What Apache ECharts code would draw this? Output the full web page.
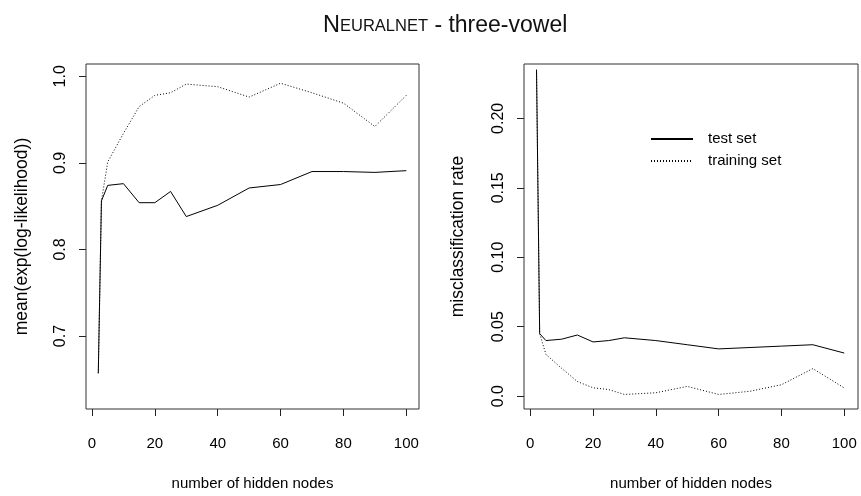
<!DOCTYPE html>
<html>
<head>
<meta charset="utf-8">
<script src="https://cdn.jsdelivr.net/npm/echarts@6/dist/echarts.min.js"></script>
<style>
  html, body { margin: 0; padding: 0; background: #fff; }
  #chart { width: 861px; height: 496px; }
</style>
</head>
<body>
<div id="chart"></div>
<script>
// Hidden-node counts tried for the network
const nodes = [2, 3, 5, 10, 15, 20, 25, 30, 40, 50, 60, 70, 80, 90, 100];

// mean(exp(log-likelihood)) per node count
const likTest  = [0.657, 0.856, 0.874, 0.876, 0.854, 0.854, 0.867, 0.838, 0.851, 0.871, 0.875, 0.890, 0.890, 0.889, 0.891];
const likTrain = [0.657, 0.856, 0.901, 0.934, 0.965, 0.978, 0.981, 0.991, 0.988, 0.976, 0.992, 0.981, 0.969, 0.942, 0.978];

// misclassification rate per node count
const errTest  = [0.235, 0.045, 0.040, 0.041, 0.044, 0.039, 0.040, 0.042, 0.040, 0.037, 0.034, 0.035, 0.036, 0.037, 0.031];
const errTrain = [0.235, 0.045, 0.030, 0.020, 0.0105, 0.006, 0.0047, 0.0012, 0.0024, 0.007, 0.0012, 0.0035, 0.0082, 0.0198, 0.0059];

// axis tick positions
const xTicks = [0, 20, 40, 60, 80, 100];
const likTicks = [0.7, 0.8, 0.9, 1.0];
const errTicks = [0, 0.05, 0.10, 0.15, 0.20];

const FONT = '"Liberation Sans", Arial, Helvetica, sans-serif';
const INK = '#000';

const pairs = (xs, ys) => xs.map((x, i) => [x, ys[i]]);

function xAxisFor(gridIndex, min, max) {
  return {
    type: 'value', gridIndex, min, max, position: 'bottom',
    name: 'number of hidden nodes', nameLocation: 'middle', nameGap: 67,
    nameTextStyle: { fontFamily: FONT, fontSize: 15, color: INK },
    axisLine: { show: false, onZero: false },
    splitLine: { show: false },
    axisTick: { show: true, inside: false, length: 7, customValues: xTicks, lineStyle: { color: '#222', width: 1 } },
    axisLabel: { customValues: xTicks, margin: 27, fontFamily: FONT, fontSize: 15, color: INK }
  };
}

function yAxisFor(gridIndex, min, max, ticks, title, gap, fmt) {
  return {
    type: 'value', gridIndex, min, max, position: 'left',
    name: title, nameLocation: 'middle', nameGap: gap, nameRotate: 90,
    nameTextStyle: { fontFamily: FONT, fontSize: 17.5, color: INK },
    axisLine: { show: false, onZero: false },
    splitLine: { show: false },
    axisTick: { show: true, inside: false, length: 7, customValues: ticks, lineStyle: { color: '#222', width: 1 } },
    axisLabel: { customValues: ticks, rotate: 90, margin: 17, fontFamily: FONT, fontSize: 16, color: INK, formatter: fmt }
  };
}

const legendText = { fontFamily: FONT, fontSize: 15, color: INK, lineHeight: 18, padding: [0, 0, 0, 10] };

const chart = echarts.init(document.getElementById('chart'), null, { renderer: 'canvas' });

chart.setOption({
  backgroundColor: '#fff',
  animation: false,
  title: {
    left: 318, top: 9,
    text: '{n|N}{sc|EURALNET}{r| - three-vowel}',
    textStyle: {
      rich: {
        n:  { fontFamily: FONT, fontSize: 23.5, fontWeight: 'normal', color: '#111' },
        sc: { fontFamily: FONT, fontSize: 16.5, fontWeight: 'normal', color: '#111' },
        r:  { fontFamily: FONT, fontSize: 23, fontWeight: 'normal', color: '#111' }
      }
    }
  },
  legend: [
    {
      data: ['test set'], left: 645, top: 125, orient: 'vertical',
      itemWidth: 42, itemHeight: 14, selectedMode: false,
      itemStyle: { opacity: 0 },
      textStyle: legendText
    },
    {
      data: ['training set'], left: 645, top: 147, orient: 'vertical',
      itemWidth: 42, itemHeight: 14, selectedMode: false,
      itemStyle: { opacity: 0 },
      textStyle: legendText
    }
  ],
  grid: [
    { left: 86, top: 64, width: 333, height: 356, show: true, borderColor: '#333', borderWidth: 1, backgroundColor: 'transparent' },
    { left: 524, top: 64, width: 334, height: 356, show: true, borderColor: '#333', borderWidth: 1, backgroundColor: 'transparent' }
  ],
  xAxis: [
    xAxisFor(0, -1.91, 104.04),
    xAxisFor(1, -1.99, 104.38)
  ],
  yAxis: [
    yAxisFor(0, 0.61569, 1.01422, likTicks, 'mean(exp(log-likelihood))', 55, v => v.toFixed(1)),
    yAxisFor(1, -0.00928, 0.23915, errTicks, 'misclassification rate', 57, v => (v === 0 ? '0.0' : v.toFixed(2)))
  ],
  series: [
    {
      name: 'test (likelihood)', type: 'line', xAxisIndex: 0, yAxisIndex: 0,
      data: pairs(nodes, likTest), symbol: 'none', silent: true,
      lineStyle: { color: INK, width: 1, type: 'solid' }
    },
    {
      name: 'training (likelihood)', type: 'line', xAxisIndex: 0, yAxisIndex: 0,
      data: pairs(nodes, likTrain), symbol: 'none', silent: true,
      lineStyle: { color: INK, width: 1, type: [1, 2] }
    },
    {
      name: 'test set', type: 'line', xAxisIndex: 1, yAxisIndex: 1,
      data: pairs(nodes, errTest), symbol: 'none', silent: true,
      itemStyle: { color: INK },
      lineStyle: { color: INK, width: 1, type: 'solid' }
    },
    {
      name: 'training set', type: 'line', xAxisIndex: 1, yAxisIndex: 1,
      data: pairs(nodes, errTrain), symbol: 'none', silent: true,
      itemStyle: { color: INK },
      lineStyle: { color: INK, width: 1, type: [1, 2] }
    }
  ]
});
</script>
</body>
</html>
